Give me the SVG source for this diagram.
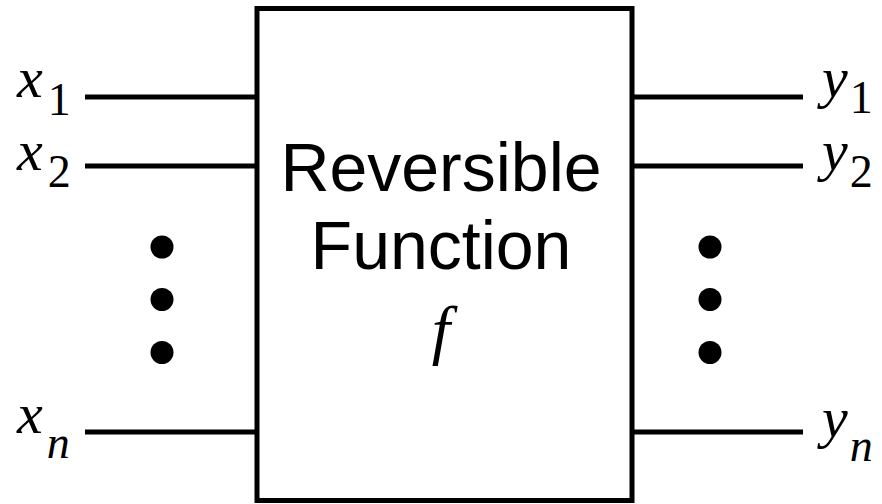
<svg xmlns="http://www.w3.org/2000/svg" width="882" height="504" viewBox="0 0 882 504">
<style>
.w{stroke:#000;stroke-width:5;fill:none}
.d{fill:#000}
.lbl{font-family:'Liberation Serif','Times New Roman',serif;font-size:58px;font-style:italic;fill:#000}
.sub{font-size:46px;font-style:normal}
.subi{font-size:46px;font-style:italic}
.t{font-family:'Liberation Sans',Arial,sans-serif;font-size:68px;fill:#000;text-anchor:middle}
</style>
<rect width="882" height="504" fill="#fff"/>
<g id="box">
<rect class="w" x="257" y="8.5" width="375" height="492"/>
<text class="t" x="441" y="191">Reversible</text>
<text class="t" x="441" y="269">Function</text>
<text class="lbl" x="441" y="352" text-anchor="middle" style="font-size:66px">f</text>
</g>
<g id="connectors">
<line class="w" x1="85" y1="97" x2="257" y2="97"/>
<line class="w" x1="85" y1="166" x2="257" y2="166"/>
<line class="w" x1="85" y1="432" x2="257" y2="432"/>
<line class="w" x1="632" y1="97" x2="803" y2="97"/>
<line class="w" x1="632" y1="166" x2="803" y2="166"/>
<line class="w" x1="632" y1="432" x2="803" y2="432"/>
</g>
<g id="dots-left">
<circle class="d" cx="162" cy="247" r="11.5"/>
<circle class="d" cx="162" cy="299.5" r="11.5"/>
<circle class="d" cx="162" cy="352.5" r="11.5"/>
</g>
<g id="dots-right">
<circle class="d" cx="710" cy="247" r="11.5"/>
<circle class="d" cx="710" cy="299.5" r="11.5"/>
<circle class="d" cx="710" cy="352.5" r="11.5"/>
</g>
<g id="x1"><text class="lbl" x="17" y="97">x<tspan class="sub" dx="5" dy="18">1</tspan></text></g>
<g id="x2"><text class="lbl" x="17" y="170">x<tspan class="sub" dx="5" dy="17">2</tspan></text></g>
<g id="xn"><text class="lbl" x="17" y="433">x<tspan class="subi" dx="4" dy="25">n</tspan></text></g>
<g id="y1"><text class="lbl" x="822" y="97">y<tspan class="sub" dx="2" dy="16">1</tspan></text></g>
<g id="y2"><text class="lbl" x="822" y="170">y<tspan class="sub" dx="2" dy="17">2</tspan></text></g>
<g id="yn"><text class="lbl" x="822" y="437">y<tspan class="subi" dx="2" dy="24">n</tspan></text></g>
</svg>
